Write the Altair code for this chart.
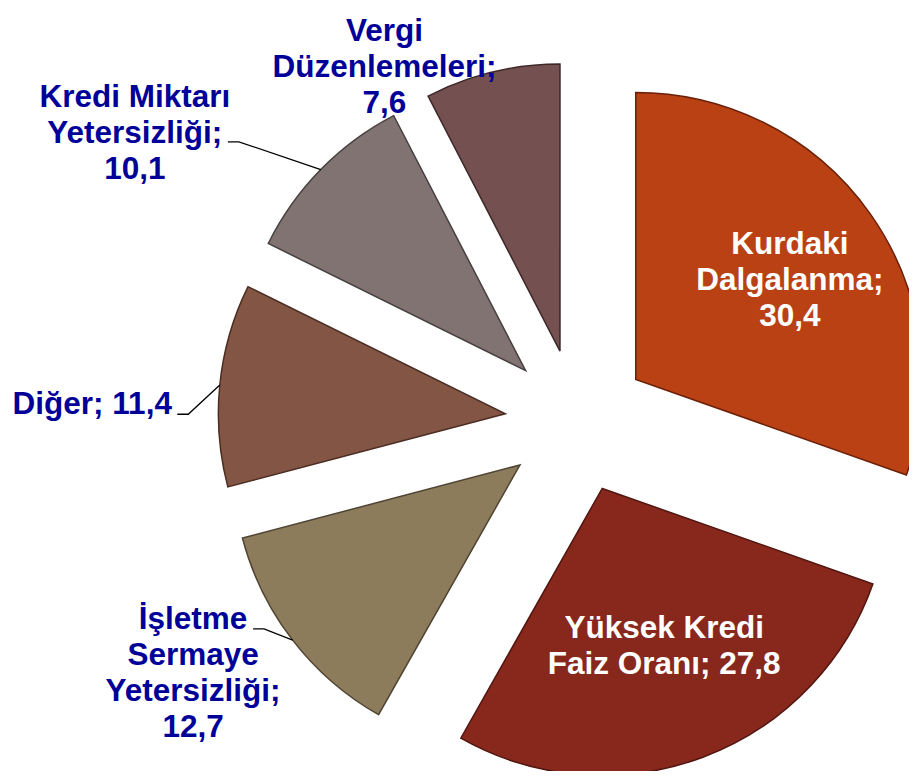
import math
import altair as alt
import pandas as pd

# ---- data ----
categories = ["Kurdaki Dalgalanma", "Yüksek Kredi Faiz Oranı", "İşletme Sermaye Yetersizliği",
              "Diğer", "Kredi Miktarı Yetersizliği", "Vergi Düzenlemeleri"]
values = [30.4, 27.8, 12.7, 11.4, 10.1, 7.6]
label_templates = ["Kurdaki\nDalgalanma;\n{v}", "Yüksek Kredi\nFaiz Oranı; {v}",
                   "İşletme\nSermaye\nYetersizliği;\n{v}", "Diğer; {v}",
                   "Kredi Miktarı\nYetersizliği;\n{v}", "Vergi\nDüzenlemeleri;\n{v}"]

# ---- style / layout ----
fills = ["#B94114", "#88281D", "#8D7C5B", "#835545", "#807371", "#745050"]
strokes = ["#6A2008", "#511610", "#4F4433", "#4B2D22", "#474040", "#3E2828"]
text_colors = ["white", "white", "#000099", "#000099", "#000099", "#000099"]
label_dist = [255, 242, 460, 485, 527, 402.5]      # px from pie centre
label_turn = [1.9, -0.6, 4.2, -3.9, -11.5, -14.9]  # deg relative to slice mid-angle
leader_anchor = {2: (60, -45.5), 3: (85, 9), 4: (93, 7.5)}  # offset of leader start from label centre
STUB = 11
LINE_H = 36
W, H = 901, 763
CX, CY = 569, 413
EXPLODE = 72
RADIUS = 287
FONT = "Liberation Sans, Arial, sans-serif"

total = sum(values)
rows = []
cum = 0.0
for i, (c, v) in enumerate(zip(categories, values)):
    t0 = cum / total * 2 * math.pi
    cum += v
    t1 = cum / total * 2 * math.pi
    mid = (t0 + t1) / 2
    px = CX + EXPLODE * math.sin(mid)
    py = CY - EXPLODE * math.cos(mid)
    la = mid + math.radians(label_turn[i])
    lx = CX + label_dist[i] * math.sin(la)
    ly = CY - label_dist[i] * math.cos(la)
    text = label_templates[i].format(v=f"{v:.1f}".replace(".", ","))
    n_lines = text.count("\n") + 1
    rows.append(dict(cat=c, value=v, t0=t0, t1=t1, px=px, py=py, lx=lx, ly=ly,
                     ty=ly - (n_lines - 1) * LINE_H / 2,
                     label=text, tcolor=text_colors[i],
                     ex=px + RADIUS * math.sin(mid), ey=py - RADIUS * math.cos(mid)))
df = pd.DataFrame(rows)

lead_rows = []
for i, (dx, dy) in leader_anchor.items():
    r = rows[i]
    ax, ay = r["lx"] + dx, r["ly"] + dy
    lead_rows += [dict(cat=r["cat"], k=0, x=ax, y=ay),
                  dict(cat=r["cat"], k=1, x=ax + STUB, y=ay),
                  dict(cat=r["cat"], k=2, x=r["ex"], y=r["ey"])]
lead = pd.DataFrame(lead_rows)

color_scale = alt.Scale(domain=categories, range=fills)
stroke_scale = alt.Scale(domain=categories, range=strokes)

arcs = alt.Chart(df).mark_arc(radius=RADIUS, strokeWidth=1.5, clip=True).encode(
    x=alt.X("px:Q", scale=None),
    y=alt.Y("py:Q", scale=None),
    theta=alt.Theta("t0:Q", scale=None),
    theta2=alt.Theta2("t1:Q"),
    color=alt.Color("cat:N", scale=color_scale, legend=None),
    stroke=alt.Stroke("cat:N", scale=stroke_scale, legend=None),
)

leaders = alt.Chart(lead).mark_line(color="black", strokeWidth=1.3).encode(
    x=alt.X("x:Q", scale=None),
    y=alt.Y("y:Q", scale=None),
    detail="cat:N",
    order="k:Q",
)

labels = alt.Chart(df).mark_text(font=FONT, fontSize=31.5, fontWeight="bold", lineBreak="\n",
                                 lineHeight=LINE_H, align="center", baseline="middle").encode(
    x=alt.X("lx:Q", scale=None),
    y=alt.Y("ty:Q", scale=None),
    text="label:N",
    color=alt.Color("tcolor:N", scale=None),
)

chart = alt.layer(arcs, leaders, labels).properties(
    width=W, height=H, autosize="none", padding=0
).configure_view(stroke=None)

chart.save("out.html", embed_options={"renderer": "svg", "actions": False})
